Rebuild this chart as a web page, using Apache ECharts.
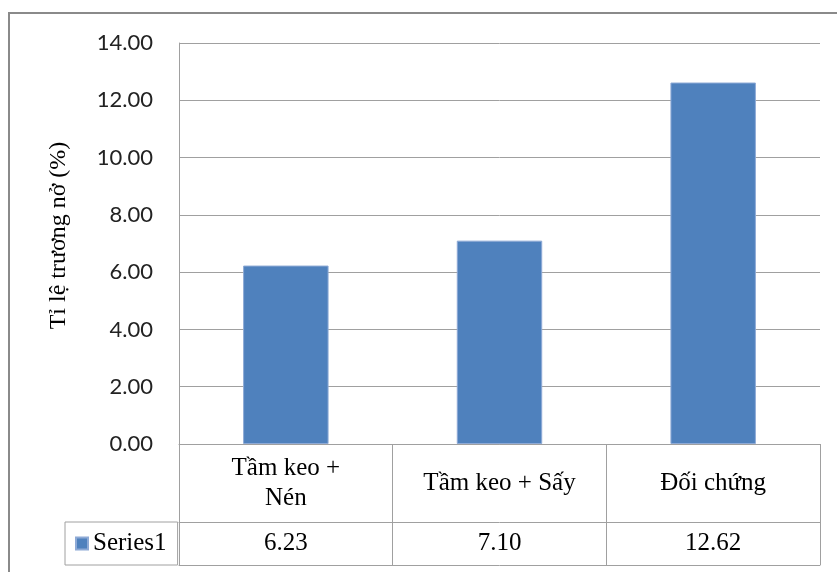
<!DOCTYPE html>
<html>
<head>
<meta charset="utf-8">
<script src="https://cdn.jsdelivr.net/npm/echarts@6/dist/echarts.min.js"></script>
<style>
  html, body { margin: 0; padding: 0; background: #fff; }
  #chart { width: 837px; height: 572px; }
</style>
</head>
<body>
<div id="chart"></div>
<script>
// Swelling ratio per treatment
const categories = ['Tầm keo + Nén', 'Tầm keo + Sấy', 'Đối chứng'];
const categoryLabels = ['Tầm keo +\nNén', 'Tầm keo + Sấy', 'Đối chứng'];
const seriesName = 'Series1';
const values = [6.23, 7.10, 12.62];
const yTicks = { min: 0, max: 14, step: 2 };
const yTitle = 'Tỉ lệ trương nở (%)';

const gridColor = '#a0a0a0';
const serif = 'Liberation Serif';

const chart = echarts.init(document.getElementById('chart'), null, { renderer: 'canvas' });

chart.setOption({
  animation: false,
  backgroundColor: '#ffffff',
  graphic: [{
    type: 'rect',
    shape: { x: 9, y: 13, width: 900, height: 700 },
    style: { fill: 'none', stroke: '#8a8a8a', lineWidth: 2 },
    silent: true
  }],
  grid: { left: 179, top: 43, width: 641, height: 401 },
  legend: {
    data: [seriesName],
    left: 65,
    top: 522,
    padding: [9, 11, 9, 10],
    borderColor: gridColor,
    borderWidth: 1,
    icon: 'rect',
    itemWidth: 12,
    itemHeight: 12,
    textStyle: { fontFamily: serif, fontSize: 25, color: '#000' }
  },
  yAxis: {
    type: 'value',
    min: yTicks.min,
    max: yTicks.max,
    interval: yTicks.step,
    name: yTitle,
    nameLocation: 'middle',
    nameGap: 108,
    nameTextStyle: { fontFamily: serif, fontSize: 24, color: '#000', padding: [0, 0, 0, 16] },
    axisLine: { show: true, lineStyle: { color: gridColor, width: 1 } },
    axisTick: { show: false },
    splitLine: { lineStyle: { color: gridColor, width: 1 } },
    axisLabel: {
      margin: 26,
      fontFamily: 'Lato',
      fontSize: 22,
      color: '#222',
      formatter: v => v.toFixed(2)
    }
  },
  xAxis: [
    {
      // category row of the data table
      type: 'category',
      data: categories,
      position: 'bottom',
      axisLine: { show: true, lineStyle: { color: gridColor, width: 1 } },
      axisTick: { show: true, alignWithLabel: false, length: 121, lineStyle: { color: gridColor, width: 1 } },
      axisLabel: {
        margin: 39,
        verticalAlign: 'middle',
        fontFamily: serif,
        fontSize: 25,
        lineHeight: 30,
        color: '#000',
        interval: 0,
        formatter: (v, i) => categoryLabels[i]
      }
    },
    {
      // value row of the data table
      type: 'category',
      data: categories,
      position: 'bottom',
      offset: 78,
      axisLine: { show: true, lineStyle: { color: gridColor, width: 1 } },
      axisTick: { show: false },
      axisLabel: {
        margin: 21,
        verticalAlign: 'middle',
        fontFamily: serif,
        fontSize: 25,
        color: '#000',
        interval: 0,
        formatter: (v, i) => values[i].toFixed(2)
      }
    },
    {
      // bottom edge of the data table
      type: 'category',
      data: categories,
      position: 'bottom',
      offset: 121,
      axisLine: { show: true, lineStyle: { color: gridColor, width: 1 } },
      axisTick: { show: false },
      axisLabel: { show: false }
    }
  ],
  series: [{
    name: seriesName,
    type: 'bar',
    xAxisIndex: 0,
    data: values,
    barWidth: '40%',
    itemStyle: { color: '#4f81bd', borderColor: '#8eaad6', borderWidth: 1 }
  }]
});
</script>
</body>
</html>
